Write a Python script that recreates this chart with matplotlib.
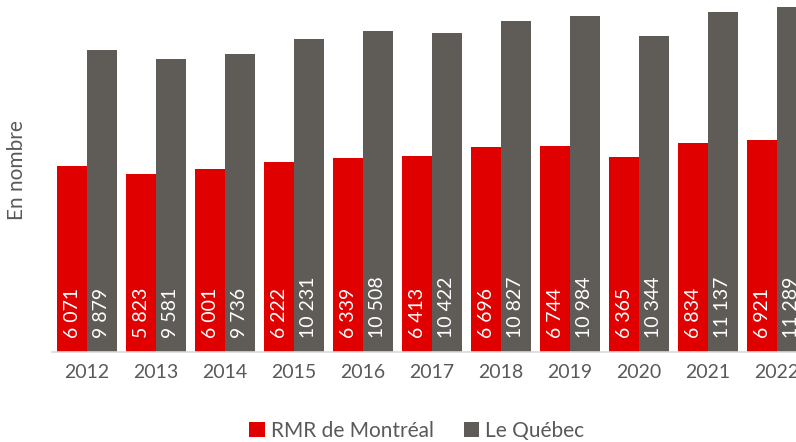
import matplotlib.pyplot as plt
import numpy as np

plt.rcParams['font.family'] = ['Lato', 'DejaVu Sans']

years = ['2012', '2013', '2014', '2015', '2016', '2017', '2018', '2019', '2020', '2021', '2022']
rmr = [6071, 5823, 6001, 6222, 6339, 6413, 6696, 6744, 6365, 6834, 6921]
quebec = [9879, 9581, 9736, 10231, 10508, 10422, 10827, 10984, 10344, 11137, 11289]

red = '#E00000'
grey = '#5F5B56'
txt = '#595959'

def fmt(v):
    return f'{v:,}'.replace(',', ' ')

fig = plt.figure(figsize=(7.96, 4.42), dpi=100)
W, H = 796, 442
ax = fig.add_axes([52.5 / W, 90 / H, (811.5 - 52.5) / W, 352 / H])

x = np.arange(len(years))
w = 0.43
b1 = ax.bar(x - w / 2, rmr, w, color=red, label='RMR de Montréal')
b2 = ax.bar(x + w / 2, quebec, w, color=grey, label='Le Québec')

for bars, vals in ((b1, rmr), (b2, quebec)):
    for bar, v in zip(bars, vals):
        ax.text(bar.get_x() + bar.get_width() / 2, 450, fmt(v), rotation=90,
                ha='center', va='bottom', color='white', fontsize=14)

ax.set_xlim(-0.5, 10.5)
ax.set_ylim(0, 11515)
ax.set_yticks([])
ax.set_xticks(x)
ax.set_xticklabels(years, fontsize=14, color=txt)
ax.tick_params(axis='x', length=0, pad=9)
for s in ['top', 'right', 'left']:
    ax.spines[s].set_visible(False)
ax.spines['bottom'].set_color('#D9D9D9')
ax.spines['bottom'].set_linewidth(1.2)

fig.text(17 / W, 1 - 170 / H, 'En nombre', rotation=90, ha='center', va='center',
         fontsize=15, color=txt)

fig.legend(handles=[b1, b2], loc='center', bbox_to_anchor=(417 / W, 1 - 431 / H),
           ncol=2, frameon=False, fontsize=15, labelcolor=txt,
           handlelength=0.75, handleheight=0.75, handletextpad=0.3, columnspacing=1.4)

fig.savefig('out.png', dpi=100)
